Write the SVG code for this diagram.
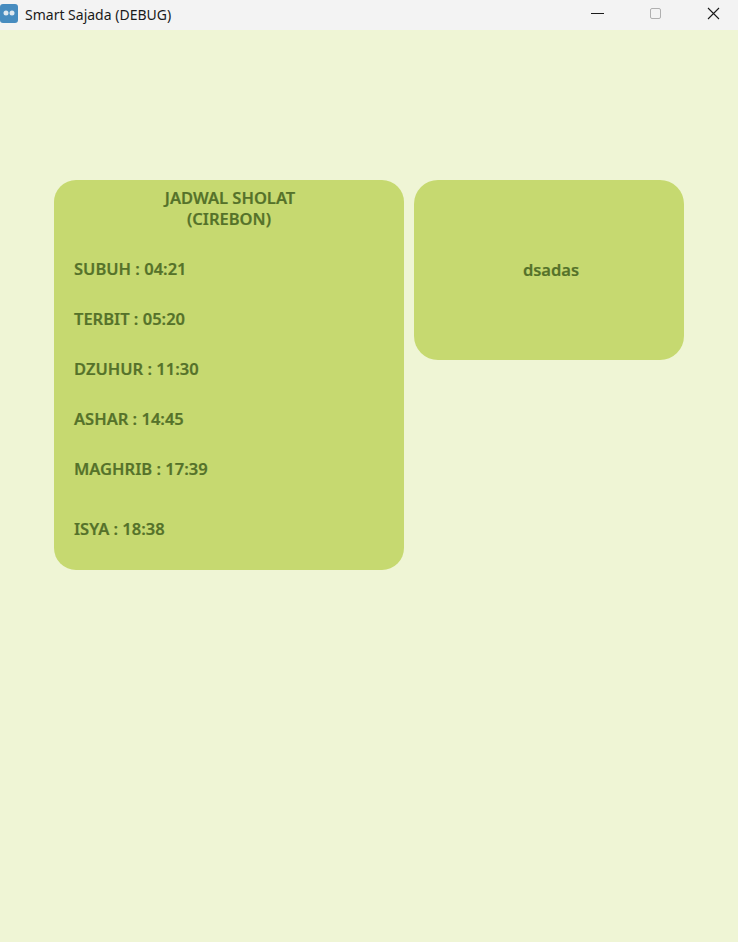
<svg xmlns="http://www.w3.org/2000/svg" width="738" height="942" viewBox="0 0 738 942">
<style>
.card{fill:#c6d970}
.t{font-family:"Noto Sans","Open Sans",sans-serif;font-size:16.5px;font-weight:600;fill:#55722a;stroke:#55722a;stroke-width:0.2}
.c{text-anchor:middle}
.win{font-family:"Noto Sans","Liberation Sans",sans-serif;font-size:14px;fill:#1a1a1a}
</style>
<rect x="0" y="0" width="738" height="942" fill="#eff5d5"/>
<g id="titlebar">
<rect x="0" y="0" width="738" height="30" fill="#f3f3f3"/>
<rect x="0" y="4" width="18" height="19" rx="3" fill="#478cbf"/>
<circle cx="6" cy="13" r="2.5" fill="#dfe8ef"/>
<circle cx="12" cy="13" r="2.5" fill="#dfe8ef"/>
<text class="win" x="25" y="19.5">Smart Sajada (DEBUG)</text>
<line x1="591" y1="13.5" x2="604" y2="13.5" stroke="#1a1a1a" stroke-width="1"/>
<rect x="650.5" y="8.5" width="10" height="10" rx="1.5" fill="none" stroke="#b0b0b0" stroke-width="1"/>
<path d="M708 8 L719 19 M719 8 L708 19" stroke="#1a1a1a" stroke-width="1.1"/>
</g>
<g id="jadwal">
<rect class="card" x="54" y="180" width="350" height="390" rx="22"/>
<text class="t c" x="230" y="204">JADWAL SHOLAT</text>
<text class="t c" x="229" y="225">(CIREBON)</text>
<text class="t" x="74" y="275">SUBUH : 04:21</text>
<text class="t" x="74" y="325">TERBIT : 05:20</text>
<text class="t" x="74" y="375">DZUHUR : 11:30</text>
<text class="t" x="74" y="425">ASHAR : 14:45</text>
<text class="t" x="74" y="475">MAGHRIB : 17:39</text>
<text class="t" x="74" y="535">ISYA : 18:38</text>
</g>
<g id="info">
<rect class="card" x="414" y="180" width="270" height="180" rx="24"/>
<text class="t c" x="551" y="276">dsadas</text>
</g>
<g id="connectors"/>
</svg>
